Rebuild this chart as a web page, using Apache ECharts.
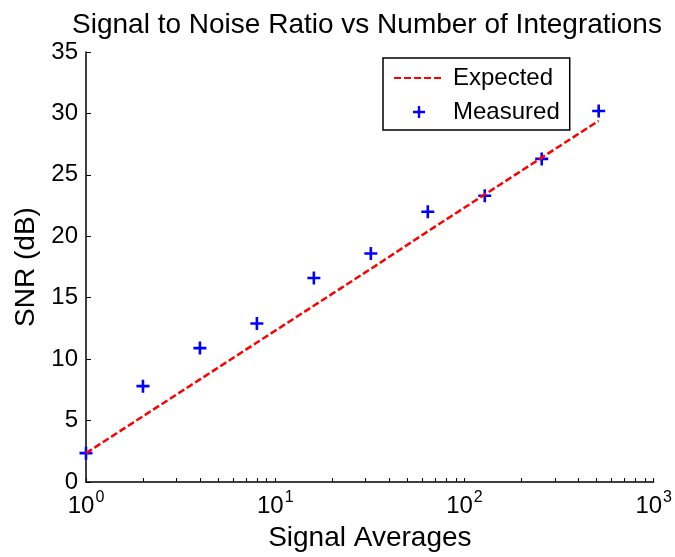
<!DOCTYPE html>
<html>
<head>
<meta charset="utf-8">
<script src="https://cdn.jsdelivr.net/npm/echarts@6/dist/echarts.min.js"></script>
<style>html,body{margin:0;padding:0;background:#fff}#c{width:675px;height:557px}</style>
</head>
<body>
<div id="c"></div>
<script>
var averages = [1, 2, 4, 8, 16, 32, 64, 128, 256, 512];
var measured = [2.35, 7.8, 10.9, 12.9, 16.6, 18.6, 22.0, 23.3, 26.3, 30.2];
var expected = [2.35, 5.35, 8.35, 11.35, 14.35, 17.35, 20.4, 23.4, 26.4, 29.4];
var xMajorTicks = [1, 10, 100, 1000];
var xMinorTicks = [1,2,3,4,5,6,7,8,9,10,20,30,40,50,60,70,80,90,100,200,300,400,500,600,700,800,900,1000];

var FONT = '"Liberation Sans", Arial, sans-serif';
var chart = echarts.init(document.getElementById('c'));
var plus = 'path://M4,0H6V4H10V6H6V10H4V6H0V4H4Z';
chart.setOption({
  animation: false,
  backgroundColor: '#fff',
  title: {
    text: 'Signal to Noise Ratio vs Number of Integrations',
    left: 362, top: 6, textAlign: 'center',
    textStyle: {fontFamily: FONT, fontSize: 28, fontWeight: 'normal', color: '#000', lineHeight: 28}
  },
  grid: {left: 86, top: 52, right: 16, bottom: 75},
  legend: {
    left: 383, top: 58, orient: 'vertical',
    padding: [8, 10, 6, 10], itemGap: 10, itemWidth: 50, itemHeight: 12,
    borderColor: '#000', borderWidth: 1.5,
    textStyle: {fontFamily: FONT, fontSize: 24, color: '#000', lineHeight: 24, padding: [0, 0, 0, 4]},
    data: [{name: 'Expected', itemStyle: {opacity: 0}}, {name: 'Measured', icon: plus}]
  },
  xAxis: {
    type: 'log', logBase: 10, min: 1, max: 1000,
    name: 'Signal Averages', nameLocation: 'middle', nameGap: 42,
    nameTextStyle: {fontFamily: FONT, fontSize: 28, color: '#000', lineHeight: 28},
    axisLine: {show: true, onZero: false, lineStyle: {color: '#000', width: 1.5}},
    axisTick: {show: true, inside: true, length: 4, customValues: xMinorTicks, lineStyle: {color: '#000'}},
    axisLabel: {
      customValues: xMajorTicks, margin: 8,
      formatter: function (v) { return '{b|10}{s|' + Math.round(Math.log10(v)) + '}'; },
      rich: {
        b: {fontFamily: FONT, fontSize: 24, color: '#000', verticalAlign: 'bottom'},
        s: {fontFamily: FONT, fontSize: 16, color: '#000', verticalAlign: 'top', padding: [0, 0, 12, 1]}
      }
    },
    splitLine: {show: false}
  },
  yAxis: {
    type: 'value', min: 0, max: 35, interval: 5,
    name: 'SNR (dB)', nameLocation: 'middle', nameGap: 44,
    nameTextStyle: {fontFamily: FONT, fontSize: 28, color: '#000', lineHeight: 28},
    axisLine: {show: true, lineStyle: {color: '#000', width: 1.5}},
    axisTick: {show: true, inside: true, length: 5, lineStyle: {color: '#000'}},
    axisLabel: {fontFamily: FONT, fontSize: 24, color: '#000', margin: 8},
    splitLine: {show: false}
  },
  series: [
    {
      name: 'Expected', type: 'line', symbol: 'none',
      data: averages.map(function (a, i) { return [a, expected[i]]; }),
      lineStyle: {color: '#ff0000', width: 2.5, type: [7, 3]},
      itemStyle: {color: '#ff0000'}
    },
    {
      name: 'Measured', type: 'scatter', symbol: plus, symbolSize: 13,
      data: averages.map(function (a, i) { return [a, measured[i]]; }),
      itemStyle: {color: '#0000ff', opacity: 1}
    }
  ]
});
</script>
</body>
</html>
